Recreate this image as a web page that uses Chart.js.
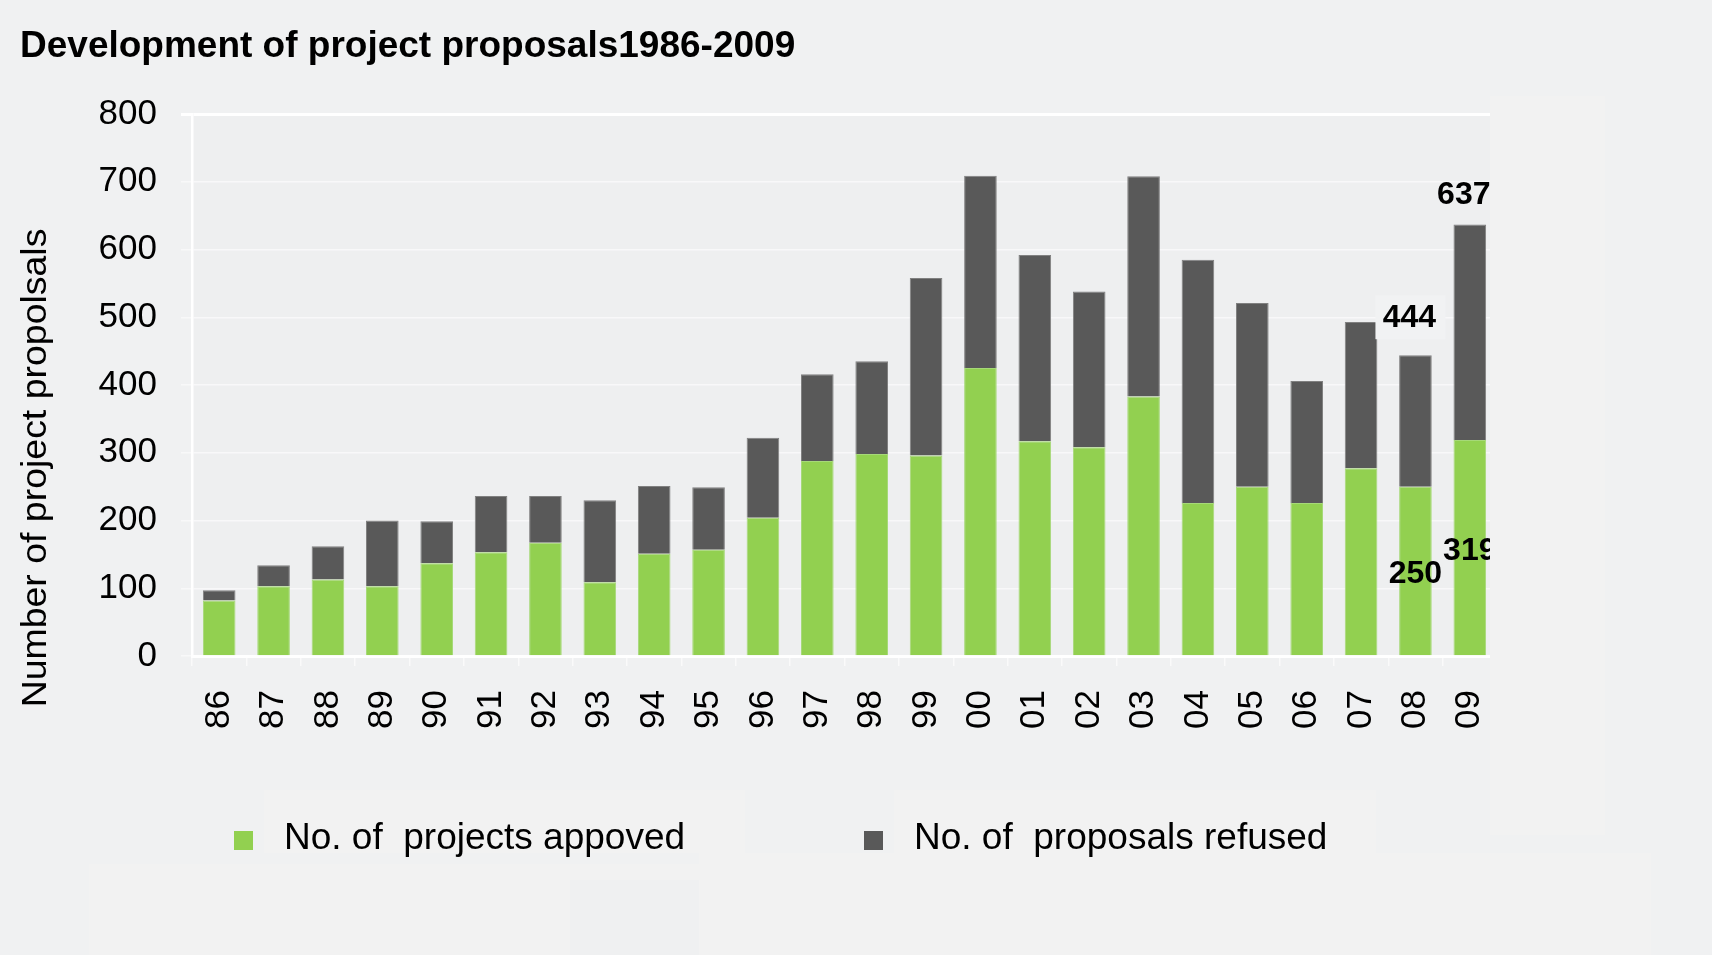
<!DOCTYPE html>
<html>
<head>
<meta charset="utf-8">
<script src="https://cdn.jsdelivr.net/npm/chart.js@4.4.1/dist/chart.umd.min.js"></script>
<style>
  html, body { margin: 0; padding: 0; background: #f0f1f2; }
  #wrap { position: relative; width: 1712px; height: 955px; overflow: hidden; }
  .panel { position: absolute; background: #f2f2f2; }
  .notch { position: absolute; background: #eff0f1; }
  canvas { position: absolute; left: 0; top: 0; }
</style>
</head>
<body>
<div id="wrap">
  <div class="panel" style="left:264px;top:790px;width:481px;height:63px"></div>
  <div class="panel" style="left:894px;top:790px;width:482px;height:63px"></div>
  <div class="panel" style="left:89px;top:864px;width:1562px;height:91px"></div>
  <div class="panel" style="left:699px;top:853px;width:952px;height:11px"></div>
  <div class="notch" style="left:570px;top:880px;width:129px;height:75px"></div>
  <canvas id="proposals-graph" width="1712" height="955"></canvas>
  <div class="panel" style="left:1490px;top:96px;width:115px;height:739px"></div>
</div>
<script>
const years = ["86", "87", "88", "89", "90", "91", "92", "93", "94", "95", "96", "97",
  "98", "99", "00", "01", "02", "03", "04", "05", "06", "07", "08", "09"];

const approved = [82, 103, 113, 103, 137, 153, 167, 109, 151, 157, 204, 288,
  298, 296, 425, 317, 308, 383, 226, 250, 226, 277, 250, 319];

const refused = [15, 31, 49, 97, 62, 83, 69, 121, 100, 92, 118, 128,
  137, 262, 284, 275, 230, 325, 359, 271, 180, 216, 194, 318];

const yTicks = [0, 100, 200, 300, 400, 500, 600, 700, 800];

const seriesNames = ["No. of  projects appoved", "No. of  proposals refused"];
const seriesColors = ["#92d050", "#595959"];

const chartTitle = "Development of project proposals1986-2009";
const yTitle = "Number of project propolsals";

const FONT = "'Liberation Sans', Arial, sans-serif";

// value labels placed next to the last two bars
const callouts = [
  { index: 23, kind: "total", dx: -6, dy: -29 },
  { index: 22, kind: "total", dx: -6, dy: -37, boxed: true },
  { index: 22, kind: "approved", dx: 0, dy: 88 },
  { index: 23, kind: "approved", dx: 0, dy: 111 },
];

const plotBackground = {
  id: "plotBackground",
  beforeDraw(chart) {
    const { ctx, chartArea } = chart;
    ctx.save();
    ctx.fillStyle = "#eeeff0";
    ctx.fillRect(chartArea.left, chartArea.top, chartArea.right - chartArea.left, chartArea.bottom - chartArea.top);
    ctx.restore();
  },
};

const extraText = {
  id: "extraText",
  afterDraw(chart) {
    const { ctx } = chart;
    const x = chart.scales.x;
    const y = chart.scales.y;
    ctx.save();

    // title
    ctx.fillStyle = "#000";
    ctx.font = "bold 37px " + FONT;
    ctx.textAlign = "left";
    ctx.textBaseline = "alphabetic";
    ctx.fillText(chartTitle, 20, 57);

    // y axis title
    ctx.save();
    ctx.translate(36, 468);
    ctx.rotate(-Math.PI / 2);
    ctx.scale(1.07, 1);
    ctx.font = "35px " + FONT;
    ctx.textAlign = "center";
    ctx.textBaseline = "middle";
    ctx.fillText(yTitle, 0, 0);
    ctx.restore();

    // value labels
    ctx.font = "bold 32px " + FONT;
    ctx.textAlign = "center";
    ctx.textBaseline = "middle";
    callouts.forEach((c) => {
      const v = c.kind === "total" ? approved[c.index] + refused[c.index] : approved[c.index];
      const px = x.getPixelForValue(c.index) + c.dx;
      const py = y.getPixelForValue(v) + c.dy;
      if (c.boxed) {
        ctx.fillStyle = "#f1f2f3";
        ctx.fillRect(px - 34, py - 23, 70, 44);
      }
      ctx.fillStyle = "#000";
      ctx.fillText(String(v), px, py);
    });

    // legend
    const legendPos = [{ box: 234, text: 284 }, { box: 864, text: 914 }];
    ctx.font = "37px " + FONT;
    ctx.textAlign = "left";
    ctx.textBaseline = "alphabetic";
    chart.data.datasets.forEach((ds, i) => {
      ctx.fillStyle = ds.backgroundColor;
      ctx.fillRect(legendPos[i].box, 831, 19, 19);
      ctx.fillStyle = "#000";
      ctx.fillText(ds.label, legendPos[i].text, 849);
    });

    ctx.restore();
  },
};

const ctx = document.getElementById("proposals-graph").getContext("2d");

const proposalsGraph = new Chart(ctx, {
  type: "bar",
  data: {
    labels: years,
    datasets: [
      {
        label: seriesNames[0],
        data: approved,
        backgroundColor: seriesColors[0],
        borderColor: "#a6d978",
        borderWidth: 1,
        barPercentage: 0.6,
        categoryPercentage: 1,
      },
      {
        label: seriesNames[1],
        data: refused,
        backgroundColor: seriesColors[1],
        borderColor: "#808080",
        borderWidth: 1,
        barPercentage: 0.6,
        categoryPercentage: 1,
      },
    ],
  },
  options: {
    responsive: false,
    animation: false,
    layout: { padding: { top: 114, left: 20, right: 215, bottom: 199 } },
    plugins: {
      legend: { display: false },
      title: { display: false },
      tooltip: { enabled: false },
    },
    scales: {
      x: {
        stacked: true,
        afterFit(scale) { scale.height = 100; },
        grid: {
          offset: true,
          drawOnChartArea: false,
          drawTicks: true,
          tickLength: 10,
          color: "#fafafa",
          lineWidth: 1.5,
        },
        border: { color: "#ffffff", width: 3 },
        ticks: {
          autoSkip: false,
          minRotation: 90,
          maxRotation: 90,
          padding: 24,
          color: "#000",
          font: { family: FONT, size: 35 },
        },
      },
      y: {
        stacked: true,
        min: 0,
        max: 800,
        afterFit(scale) { scale.width = 172; },
        afterBuildTicks(scale) { scale.ticks = yTicks.map((v) => ({ value: v })); },
        grid: {
          tickLength: 11,
          color: (c) => (c.tick && c.tick.value === 800 ? "#ffffff" : "#f8f8f9"),
          lineWidth: (c) => (c.tick && c.tick.value === 800 ? 3 : 1.5),
        },
        border: { color: "#ffffff", width: 2.5 },
        ticks: {
          padding: 24,
          color: "#000",
          font: { family: FONT, size: 35 },
        },
      },
    },
  },
  plugins: [plotBackground, extraText],
});
</script>
</body>
</html>
